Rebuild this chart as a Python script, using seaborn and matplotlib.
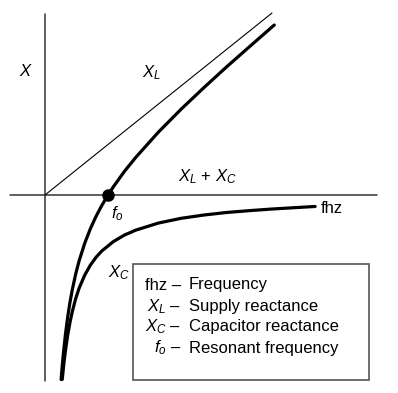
import matplotlib
matplotlib.use("Agg")
import matplotlib.pyplot as plt
import seaborn as sns
import pandas as pd
from matplotlib.patches import Rectangle

sns.set_theme(style="white")
plt.rcParams['font.family'] = ['Liberation Sans', 'DejaVu Sans']
plt.rcParams['mathtext.fontset'] = 'custom'
plt.rcParams['mathtext.rm'] = 'Liberation Sans'
plt.rcParams['mathtext.it'] = 'Liberation Sans:italic'
plt.rcParams['mathtext.bf'] = 'Liberation Sans:bold'
plt.rcParams['text.color'] = 'black'

# ---- data (arbitrary units) ----
f_xl = [0.0, 10.0]
xl = [0.0, 10.0]

f_xc = [0.76, 0.8, 0.85, 0.9, 1.0, 1.1, 1.2, 1.35, 1.5, 1.75, 2.0, 2.25, 2.5,
        3.0, 3.5, 4.0, 5.0, 6.0, 7.0, 8.0, 9.0, 10.0, 11.9]
xc = [-10.13, -9.63, -9.06, -8.56, -7.7, -7.0, -6.42, -5.70, -5.13, -4.40, -3.85,
      -3.42, -3.08, -2.57, -2.2, -1.93, -1.54, -1.28, -1.10, -0.96, -0.86, -0.77, -0.63]

f_sum = [0.71, 0.75, 0.8, 0.9, 1.0, 1.1, 1.2, 1.35, 1.5, 1.75, 2.0, 2.25, 2.5,
         2.78, 3.0, 3.5, 4.0, 5.0, 6.0, 7.0, 8.0, 9.0, 10.1]
xsum = [-10.14, -9.52, -8.83, -7.66, -6.7, -5.9, -5.22, -4.35, -3.63, -2.65, -1.85,
        -1.17, -0.58, 0.0, 0.43, 1.3, 2.07, 3.46, 4.72, 5.9, 7.04, 8.14, 9.34]

f_res = [2.78]
x_res = [0.0]

legend_keys = ["fhz –", "$X_L$ –", "$X_C$ –", "$f_o$ –"]
legend_desc = ["Frequency", "Supply reactance", "Capacitor reactance", "Resonant frequency"]

# ---- figure ----
W, H = 398, 393
fig = plt.figure(figsize=(W / 100, H / 100), dpi=100)
ax = fig.add_axes([0, 0, 1, 1])
SX, SY, OX, OY = 22.7, 18.2, 45.0, 195.0
ax.set_xlim((0 - OX) / SX, (W - OX) / SX)
ax.set_ylim((OY - H) / SY, (OY - 0) / SY)
ax.axis('off')


def P(px, py):
    return (px - OX) / SX, (OY - py) / SY


# axes lines
axc = '#333333'
ax.plot([P(10, 0)[0], P(377, 0)[0]], [0, 0], color=axc, lw=1.1)
ax.plot([0, 0], [P(0, 14)[1], P(0, 381)[1]], color=axc, lw=1.1)

sns.lineplot(x=f_xl, y=xl, ax=ax, color='black', lw=0.8, sort=False)
sns.lineplot(x=f_xc, y=xc, ax=ax, color='black', lw=2.3, sort=False)
sns.lineplot(x=f_sum, y=xsum, ax=ax, color='black', lw=2.3, sort=False)
ax.plot(f_res, x_res, 'o', color='black', ms=8)

fs = 12
tc = 'black'
ax.text(*P(26, 71), "$X$", fontsize=fs, ha='center', va='center', color=tc)
ax.text(*P(152, 73), "$X_L$", fontsize=fs, ha='center', va='center', color=tc)
ax.text(*P(207, 177), "$X_L$ + $X_C$", fontsize=fs, ha='center', va='center', color=tc)
ax.text(*P(321, 208), "fhz", fontsize=fs, ha='left', va='center', color=tc)
ax.text(*P(117, 214), "$f_o$", fontsize=fs, ha='center', va='center', color=tc)
ax.text(*P(119, 273), "$X_C$", fontsize=fs, ha='center', va='center', color=tc)

x0, y0 = P(133, 380)
x1, y1 = P(369, 264)
ax.add_patch(Rectangle((x0, y0), x1 - x0, y1 - y0, fill=False, edgecolor='#555555', lw=1.2))

rows_y = [285, 307, 327, 348]
for k, d, yy in zip(legend_keys, legend_desc, rows_y):
    ax.text(*P(181, yy), k, fontsize=fs, ha='right', va='center', color=tc)
    ax.text(*P(189, yy), d, fontsize=fs, ha='left', va='center', color=tc)

fig.savefig("out.png", dpi=100)
